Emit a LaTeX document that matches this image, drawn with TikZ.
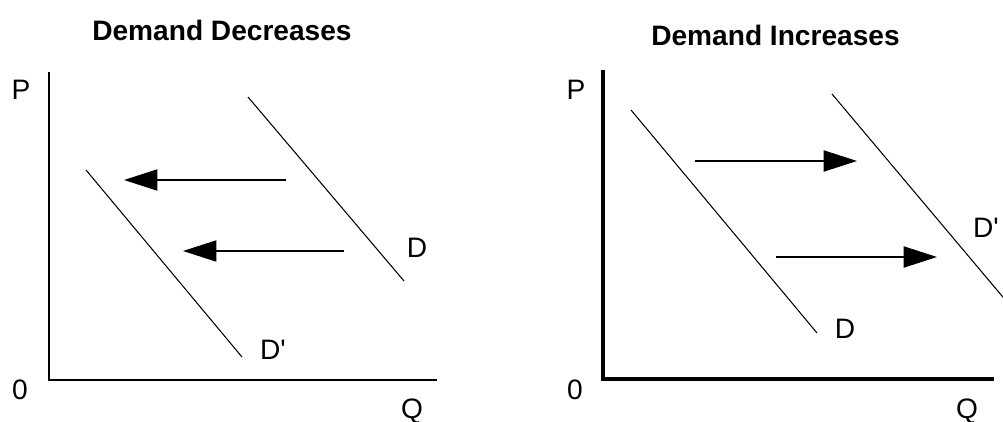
\documentclass[tikz,border=0pt]{standalone}
\usepackage{fontspec}
\setmainfont{Liberation Sans}
\usetikzlibrary{arrows.meta}
\begin{document}
\begin{tikzpicture}[x=0.02cm,y=-0.02cm,
  title/.style={font=\fontsize{16}{19}\selectfont\bfseries,anchor=base,inner sep=0pt},
  lbl/.style={font=\fontsize{16}{19}\selectfont,anchor=base,inner sep=0pt},
  curve/.style={line width=0.6pt},
  shiftarrow/.style={line width=1pt,-{Triangle[length=19pt,width=12pt]}},
  axisL/.style={line width=1.4pt},
  axisR/.style={line width=2.3pt}]
\useasboundingbox (0,0) rectangle (1003,422);
% ---------- left panel ----------
\node[title] (tL) at (222,41) {Demand Decreases};
\coordinate (oL) at (49,380);
\coordinate (yL) at (49,72);
\coordinate (xL) at (437,380);
\draw[axisL] (yL) -- (oL) -- (xL);
\node[lbl] (PL) at (21,100) {P};
\node[lbl] (ZL) at (20,399) {0};
\node[lbl] (QL) at (412,418) {Q};
\coordinate (dL1) at (248,97);
\coordinate (dL2) at (404,281);
\draw[curve] (dL1) -- (dL2);
\node[lbl] (DL) at (417,257) {D};
\coordinate (dpL1) at (86,170);
\coordinate (dpL2) at (242,357);
\draw[curve] (dpL1) -- (dpL2);
\node[lbl] (DpL) at (273,359) {D\textquotesingle};
\coordinate (aL1s) at (286,180);
\coordinate (aL1e) at (124,180);
\draw[shiftarrow] (aL1s) -- (aL1e);
\coordinate (aL2s) at (344,251);
\coordinate (aL2e) at (183,251);
\draw[shiftarrow] (aL2s) -- (aL2e);
% ---------- right panel ----------
\node[title] (tR) at (775.5,46) {Demand Increases};
\coordinate (oR) at (603,379);
\coordinate (yR) at (603,70);
\coordinate (xR) at (994,379);
\draw[axisR] (yR) -- (oR) -- (xR);
\node[lbl] (PR) at (576,100) {P};
\node[lbl] (ZR) at (575,399) {0};
\node[lbl] (QR) at (967,418) {Q};
\coordinate (dR1) at (631,110);
\coordinate (dR2) at (817,333);
\draw[curve] (dR1) -- (dR2);
\node[lbl] (DR) at (845,338) {D};
\coordinate (dpR1) at (832,94);
\coordinate (dpR2) at (1010,305.5);
\draw[curve] (dpR1) -- (dpR2);
\node[lbl] (DpR) at (986,237) {D\textquotesingle};
\coordinate (aR1s) at (695,161);
\coordinate (aR1e) at (857,161);
\draw[shiftarrow] (aR1s) -- (aR1e);
\coordinate (aR2s) at (776,257);
\coordinate (aR2e) at (937,257);
\draw[shiftarrow] (aR2s) -- (aR2e);
\end{tikzpicture}
\end{document}
